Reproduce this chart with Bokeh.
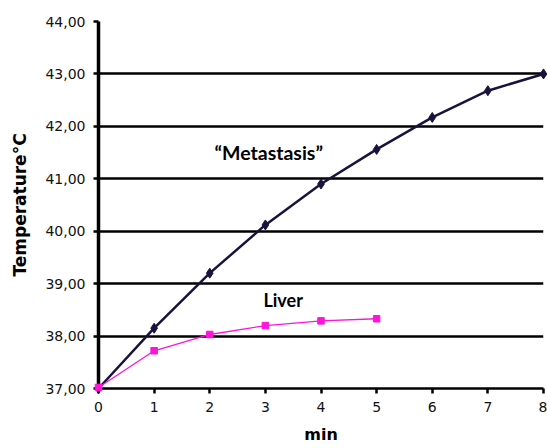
from bokeh.plotting import figure
from bokeh.models import Range1d, FixedTicker, CustomJSTickFormatter, Label
from bokeh.embed import file_html
from bokeh.resources import INLINE

# ---- data ----
minutes = [0, 1, 2, 3, 4, 5, 6, 7, 8]
metastasis = [37.0, 38.15, 39.2, 40.12, 40.9, 41.56, 42.17, 42.68, 43.0]
liver_minutes = [0, 1, 2, 3, 4, 5]
liver = [37.02, 37.72, 38.03, 38.2, 38.29, 38.33]
x_ticks = [0, 1, 2, 3, 4, 5, 6, 7, 8]
y_ticks = [37, 38, 39, 40, 41, 42, 43, 44]
grid_ticks = [37, 38, 39, 40, 41, 42, 43]

p = figure(width=547, height=448, output_backend="svg", toolbar_location=None,
           x_range=Range1d(0, 8), y_range=Range1d(37, 44),
           min_border_left=98, min_border_right=4, min_border_top=21, min_border_bottom=60)
p.background_fill_color = "white"
p.border_fill_color = "white"
p.outline_line_color = None

# grid
p.xgrid.visible = False
p.ygrid.ticker = FixedTicker(ticks=grid_ticks)
p.ygrid.grid_line_color = "black"
p.ygrid.grid_line_width = 2.7

fmt = CustomJSTickFormatter(code="return tick.toFixed(2).replace('.', ',');")

# y axis
ya = p.yaxis[0]
ya.ticker = FixedTicker(ticks=y_ticks)
ya.formatter = fmt
ya.axis_line_color = "black"
ya.axis_line_width = 3.5
ya.major_tick_line_color = "black"
ya.major_tick_line_width = 2.5
ya.major_tick_out = 5
ya.major_tick_in = 0
ya.minor_tick_line_color = None
ya.major_label_text_font = "DejaVu Sans"
ya.major_label_text_font_size = "14px"
ya.major_label_text_color = "#111111"
ya.major_label_standoff = 8
ya.axis_label = "Temperature°C"
ya.axis_label_text_font = "DejaVu Sans"
ya.axis_label_text_font_style = "bold"
ya.axis_label_text_font_size = "17px"
ya.axis_label_text_color = "black"
ya.axis_label_standoff = 12

# x axis
xa = p.xaxis[0]
xa.ticker = FixedTicker(ticks=x_ticks)
xa.axis_line_color = "black"
xa.axis_line_width = 2.5
xa.major_tick_line_color = "black"
xa.major_tick_line_width = 2.5
xa.major_tick_out = 5
xa.major_tick_in = 0
xa.minor_tick_line_color = None
xa.major_label_text_font = "DejaVu Sans"
xa.major_label_text_font_size = "14px"
xa.major_label_text_color = "#111111"
xa.major_label_standoff = 8
xa.axis_label = "min"
xa.axis_label_text_font = "DejaVu Sans"
xa.axis_label_text_font_style = "bold"
xa.axis_label_text_font_size = "16px"
xa.axis_label_text_color = "black"
xa.axis_label_standoff = 10

# series
navy = "#17133d"
pink = "#ff14d8"
r1 = p.line(minutes, metastasis, line_color=navy, line_width=2.5)
r2 = p.scatter(minutes, metastasis, marker="diamond", size=10, fill_color=navy, line_color=navy)
r3 = p.line(liver_minutes, liver, line_color=pink, line_width=1.3)
r4 = p.scatter(liver_minutes, liver, marker="square", size=6.5, fill_color=pink, line_color=pink)
for r in (r1, r2, r3, r4):
    r.level = "overlay"

p.add_layout(Label(x=3.06, y=41.5, text="“Metastasis”", text_font="Lato", text_font_style="bold",
                   text_font_size="19.5px", text_color="black", text_align="center", text_baseline="middle"))
p.add_layout(Label(x=3.32, y=38.68, text="Liver", text_font="Lato", text_font_style="bold",
                   text_font_size="18px", text_color="black", text_align="center", text_baseline="middle"))

open("out.html", "w").write(file_html(p, INLINE))
